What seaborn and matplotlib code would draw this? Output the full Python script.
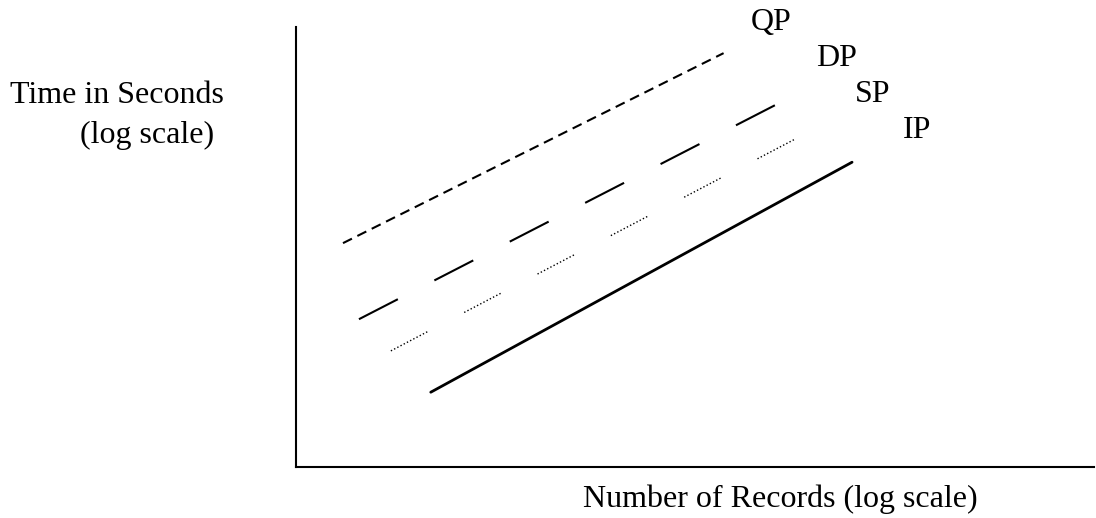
import pandas as pd
import matplotlib.pyplot as plt
import seaborn as sns

# schematic: endpoints of each trend line (axis units, no ticks shown)
series = ['QP', 'DP', 'SP', 'IP']
x_start = [5.9, 7.9, 11.9, 16.9]
x_end = [53.6, 60.3, 62.5, 69.7]
y_start = [50.9, 33.6, 26.4, 17.0]
y_end = [94.1, 82.5, 74.5, 69.3]
label_x = [59.6, 67.7, 72.3, 77.8]
label_y = [101.0, 92.8, 84.6, 76.4]

sns.set_theme(style='white')
plt.rcParams['font.family'] = ['Liberation Serif', 'DejaVu Serif']
plt.rcParams['text.color'] = 'black'

df = pd.DataFrame({
    'series': series * 2,
    'x': x_start + x_end,
    'y': y_start + y_end,
})

fig = plt.figure(figsize=(10.96, 5.18), dpi=100)
ax = fig.add_axes([0.270, 0.0985, 0.728, 0.849])

dot_run = (1, 1.6) * 11
styles = {
    'QP': dict(lw=1.5, linestyle=(0, (4.8, 2.9))),
    'DP': dict(lw=1.5, linestyle=(0, (21, 19.7))),
    'SP': dict(lw=1.0, linestyle=(0, dot_run + (1, 30))),
    'IP': dict(lw=2.0, linestyle='-'),
}

for name in series:
    sub = df[df['series'] == name]
    sns.lineplot(data=sub, x='x', y='y', ax=ax, color='black', **styles[name])

for name, lx, ly in zip(series, label_x, label_y):
    ax.text(lx, ly, name, fontsize=23, color='black', ha='center', va='center',
            clip_on=False)

ax.set_xlim(0, 100)
ax.set_ylim(0, 100)
ax.set_xticks([])
ax.set_yticks([])
ax.set_xlabel('')
ax.set_ylabel('')
for side in ['top', 'right']:
    ax.spines[side].set_visible(False)
for side in ['left', 'bottom']:
    ax.spines[side].set_color('black')
    ax.spines[side].set_linewidth(1.5)

fig.text(10 / 1096, 0.801, 'Time in Seconds', fontsize=23, color='black',
         ha='left', va='baseline')
fig.text(80 / 1096, 0.724, '(log scale)', fontsize=23, color='black',
         ha='left', va='baseline')
fig.text(780 / 1096, 0.0212, 'Number of Records (log scale)', fontsize=23,
         color='black', ha='center', va='baseline')

fig.savefig('out.png', dpi=100, facecolor='white')
